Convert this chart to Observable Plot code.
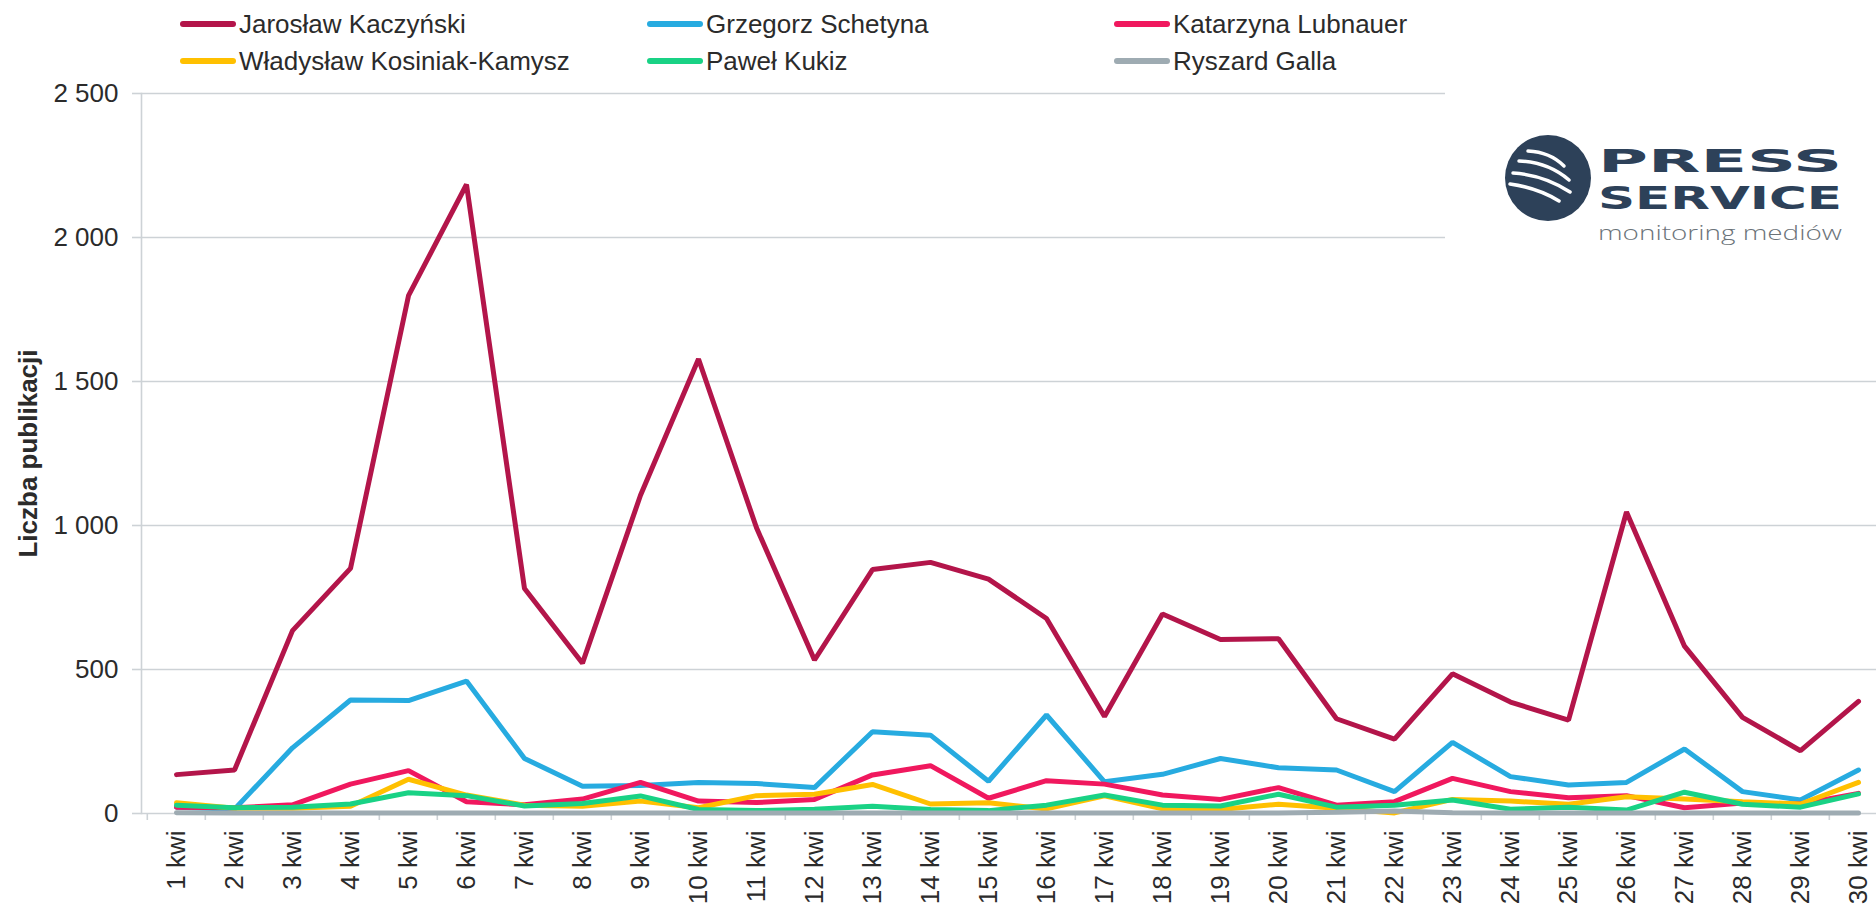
<!DOCTYPE html>
<html>
<head>
<meta charset="utf-8">
<script src="https://cdn.jsdelivr.net/npm/d3@7"></script>
<script src="https://cdn.jsdelivr.net/npm/@observablehq/plot@0.6"></script>
<style>
  html, body { margin: 0; padding: 0; background: #fff; overflow: hidden; }
  #page { position: relative; width: 1876px; height: 904px; overflow: hidden; font-family: "Liberation Sans", Arial, sans-serif; }
  #legend { position: relative; height: 80px; }
  #chart { width: 1900px; }
  #chart svg { max-width: none !important; display: block; }
  .item { position: absolute; display: flex; align-items: center; height: 30px; transform: translateY(-50%); font-size: 26px; color: #2b2b2b; white-space: nowrap; }
  .sw { width: 56px; height: 6px; border-radius: 3px; margin-right: 3px; }
  #logo { position: absolute; left: 0; top: 0; pointer-events: none; }
</style>
</head>
<body>
<div id="page">
  <div id="legend"></div>
  <div id="chart"></div>
  <svg id="logo" width="1876" height="904"></svg>
</div>
<script>
// ---- data ----
const days = ["1 kwi","2 kwi","3 kwi","4 kwi","5 kwi","6 kwi","7 kwi","8 kwi","9 kwi","10 kwi",
  "11 kwi","12 kwi","13 kwi","14 kwi","15 kwi","16 kwi","17 kwi","18 kwi","19 kwi","20 kwi",
  "21 kwi","22 kwi","23 kwi","24 kwi","25 kwi","26 kwi","27 kwi","28 kwi","29 kwi","30 kwi"];
const names = ["Jarosław Kaczyński","Grzegorz Schetyna","Katarzyna Lubnauer",
  "Władysław Kosiniak-Kamysz","Paweł Kukiz","Ryszard Galla"];
const kaczynski = [135,151,635,851,1798,2184,781,522,1105,1578,992,533,847,872,814,677,337,693,604,607,329,258,485,387,324,1047,581,334,218,389];
const schetyna  = [22,15,228,394,392,460,191,95,97,108,104,90,284,272,112,342,110,136,191,159,151,76,247,128,99,108,224,76,47,151];
const lubnauer  = [22,20,30,102,149,41,30,50,108,43,38,49,134,166,53,114,102,64,49,90,29,41,122,76,55,62,20,36,33,70];
const kosiniak  = [37,18,18,25,119,64,29,25,43,20,62,67,101,33,37,16,61,16,14,32,18,2,49,43,32,58,50,41,33,108];
const kukiz     = [29,20,22,33,72,62,26,35,61,14,10,15,25,14,10,29,64,29,26,67,22,29,47,15,22,12,74,32,22,68];
const galla     = [3,2,2,2,2,2,2,2,2,2,2,2,2,2,2,2,2,2,2,2,4,9,3,2,2,2,2,2,2,2];
const yTicks = [0, 500, 1000, 1500, 2000, 2500];
const yTitle = "Liczba publikacji";

const colors = ["#b3154a", "#27abe0", "#f0185e", "#ffc000", "#19d285", "#9eabb2"];
const seriesValues = [kaczynski, schetyna, lubnauer, kosiniak, kukiz, galla];

const rows = [];
names.forEach((n, si) => days.forEach((d, i) => rows.push({day: d, name: n, value: seriesValues[si][i]})));

// ---- legend ----
const legend = document.getElementById("legend");
const colX = [180, 647, 1114], rowY = [24, 61];
names.forEach((n, i) => {
  const it = document.createElement("div");
  it.className = "item";
  it.style.left = colX[i % 3] + "px";
  it.style.top = rowY[Math.floor(i / 3)] + "px";
  const sw = document.createElement("div");
  sw.className = "sw";
  sw.style.background = colors[i];
  const tx = document.createElement("span");
  tx.textContent = n;
  it.appendChild(sw); it.appendChild(tx);
  legend.appendChild(it);
});

// ---- chart ----
const W = 1900, ML = 141, MR = 7;
const step = (W - ML - MR) / days.length;
const grid = "#cdd2d6";
const fmt = d => d3.format(",")(d).replace(/,/g, " ");

const chart = Plot.plot({
  width: W, height: 824,
  marginTop: 13, marginBottom: 91, marginLeft: ML, marginRight: MR,
  style: {fontFamily: "'Liberation Sans', Arial, sans-serif", fontSize: "26px", color: "#2b2b2b", background: "transparent", overflow: "visible", maxWidth: "none"},
  x: {type: "point", domain: days, padding: 0.5, label: null},
  y: {domain: [0, 2500], label: null},
  color: {domain: names, range: colors},
  marks: [
    Plot.gridY(yTicks, {stroke: grid, strokeOpacity: 1, strokeWidth: 1.6}),
    Plot.frame({anchor: "left", stroke: grid, strokeWidth: 1.6}),
    Plot.axisY(yTicks, {tickSize: 9, tickPadding: 14, stroke: grid, strokeWidth: 1.6, tickFormat: fmt, label: null, fill: "#2b2b2b"}),
    Plot.axisX({tickSize: 7, tickFormat: () => "", dx: -step / 2, stroke: grid, strokeWidth: 1.6, label: null}),
    Plot.axisX({tickSize: 0, tickPadding: 17, tickRotate: -90, label: null, fill: "#2b2b2b"}),
    Plot.text([yTitle], {frameAnchor: "left", dx: -113, rotate: -90, fontWeight: "bold", fontSize: 26, fill: "#2b2b2b", textAnchor: "middle"}),
    Plot.lineY(rows, {x: "day", y: "value", z: "name", stroke: "name", strokeWidth: 5, strokeLinejoin: "miter", strokeLinecap: "round"})
  ]
});
chart.style.maxWidth = "none";
document.getElementById("chart").appendChild(chart);

// ---- logo overlay ----
const logo = d3.select("#logo");
logo.append("rect").attr("x", 1445).attr("y", 86).attr("width", 431).attr("height", 166).attr("fill", "#fff");
const g = logo.append("g").attr("transform", "translate(1548,178)");
g.append("circle").attr("r", 43).attr("fill", "#2d4159");
const stripes = [
  [[-20,-27],[2,-26],[16,-12]],
  [[-29,-17],[0,-16],[21,2]],
  [[-35,-5],[-4,-3],[22,14]],
  [[-38,6],[-10,10],[11,23]]
];
stripes.forEach(([a, c, b]) => {
  g.append("path")
    .attr("d", `M${a[0]},${a[1]} Q${c[0]},${c[1]} ${b[0]},${b[1]}`)
    .attr("fill", "none").attr("stroke", "#fff").attr("stroke-width", 3.5).attr("stroke-linecap", "round");
});
logo.append("text").attr("x", 1598).attr("y", 172).attr("textLength", 244).attr("lengthAdjust", "spacingAndGlyphs")
  .attr("font-family", "DejaVu Sans").attr("font-weight", "bold").attr("font-size", 32).attr("fill", "#2d4159").text("PRESS");
logo.append("text").attr("x", 1598).attr("y", 209).attr("textLength", 244).attr("lengthAdjust", "spacingAndGlyphs")
  .attr("font-family", "DejaVu Sans").attr("font-weight", "bold").attr("font-size", 32).attr("fill", "#2d4159").text("SERVICE");
logo.append("text").attr("x", 1598).attr("y", 240).attr("textLength", 244).attr("lengthAdjust", "spacingAndGlyphs")
  .attr("font-family", "'Open Sans'").attr("font-weight", 300).attr("font-size", 20).attr("fill", "#6b7379").text("monitoring mediów");
</script>
</body>
</html>
